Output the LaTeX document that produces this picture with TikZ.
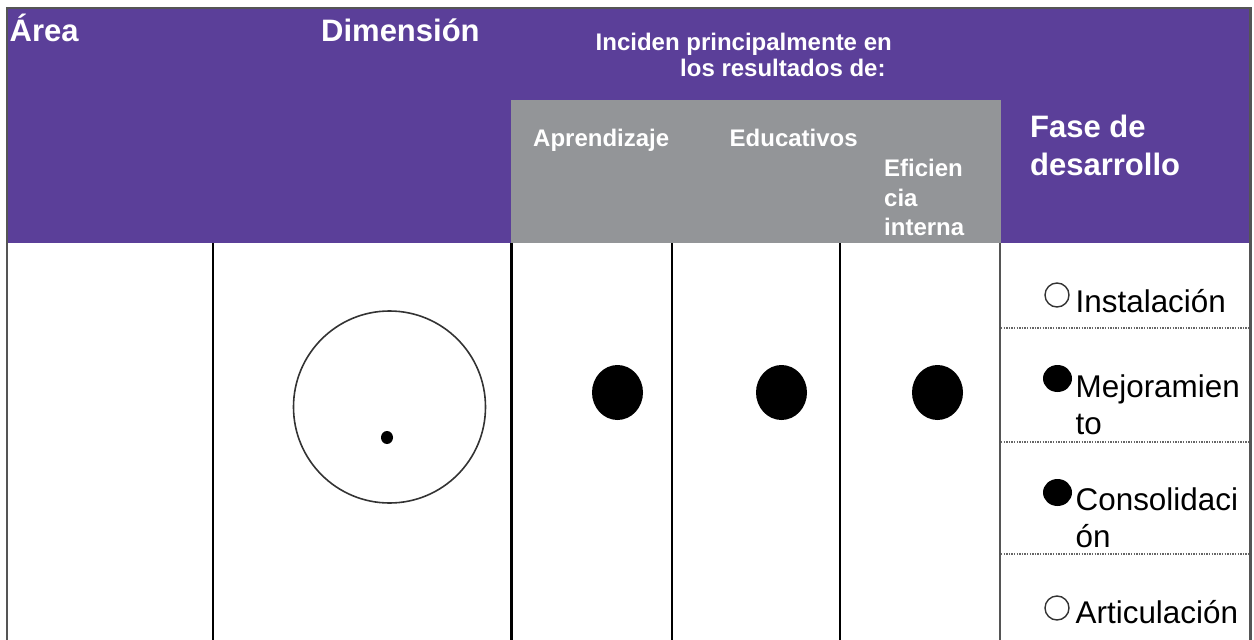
\documentclass[tikz,border=0pt]{standalone}
\usepackage{fontspec}
\setmainfont{Liberation Sans}
\usetikzlibrary{shapes.geometric}
\definecolor{hdrpurple}{HTML}{5B3F99}
\definecolor{hdrgray}{HTML}{939598}
\definecolor{rulegray}{HTML}{555555}
\definecolor{dotgray}{HTML}{666666}
\begin{document}
\begin{tikzpicture}[x=1pt,y=-1pt,
  bigtitle/.style={anchor=base west, inner sep=0pt, text=white, font=\bfseries\fontsize{31}{38}\selectfont, align=left},
  subtitle/.style={anchor=base west, inner sep=0pt, text=white, font=\bfseries\fontsize{24}{29.5}\selectfont, align=left},
  itemtext/.style={anchor=base west, inner sep=0pt, text=black, font=\fontsize{31.4}{37}\selectfont, align=left},
  blackrule/.style={line width=2.2pt, black},
  grayrule/.style={line width=2.5pt, rulegray},
  dotrule/.style={line width=1.3pt, dotgray, dash pattern=on 1.3pt off 1.3pt},
  mark open/.style={circle, draw=black!80, line width=1.4pt, minimum size=24pt, inner sep=0pt},
  mark full/.style={ellipse, fill=black, minimum width=29pt, minimum height=27pt, inner sep=0pt},
  bigdot/.style={ellipse, fill=black, minimum width=51pt, minimum height=55pt, inner sep=0pt}]
\useasboundingbox (0,0) rectangle (1254,640);
% header backgrounds
\fill[hdrpurple] (7,8) rectangle (1250,243);
\fill[hdrgray] (511,100) rectangle (1001,243);
% body rules
\coordinate (c1t) at (213,243); \coordinate (c1b) at (213,640);
\coordinate (c2t) at (511.5,243); \coordinate (c2b) at (511.5,640);
\coordinate (c3t) at (672,243); \coordinate (c3b) at (672,640);
\coordinate (c4t) at (840,243); \coordinate (c4b) at (840,640);
\coordinate (c5t) at (1000,243); \coordinate (c5b) at (1000,640);
\draw[blackrule] (c1t) -- (c1b);
\draw[blackrule] (c2t) -- (c2b);
\draw[blackrule] (c3t) -- (c3b);
\draw[blackrule] (c4t) -- (c4b);
\draw[grayrule] (c5t) -- (c5b);
% outer border
\coordinate (tl) at (7,8); \coordinate (tr) at (1250.5,8);
\coordinate (bl) at (7,640); \coordinate (br) at (1250.5,640);
\draw[grayrule] (bl) -- (tl) -- (tr) -- (br);
% dotted separators
\coordinate (d1a) at (1001,328); \coordinate (d1b) at (1250,328);
\coordinate (d2a) at (1001,442); \coordinate (d2b) at (1250,442);
\coordinate (d3a) at (1001,554); \coordinate (d3b) at (1250,554);
\draw[dotrule] (d1a) -- (d1b);
\draw[dotrule] (d2a) -- (d2b);
\draw[dotrule] (d3a) -- (d3b);
% header texts (multi-line nodes are placed at the baseline of their last line)
\node[bigtitle] (area) at (9.5,41) {Área};
\node[bigtitle] (dim) at (321,41) {Dimensión};
\node[subtitle] (inc1) at (595.5,50) {Inciden principalmente en};
\node[subtitle] (inc2) at (680,76) {los resultados de:};
\node[subtitle] (apr) at (533,146) {Aprendizaje};
\node[subtitle] (edu) at (729.5,146) {Educativos};
\node[subtitle] (efi) at (884,235.5) {Eficien\\cia\\interna};
\node[bigtitle] (fase) at (1030,175) {Fase de\\desarrollo};
% dimension symbol
\node[circle, draw=black!80, line width=1.6pt, minimum size=192pt, inner sep=0pt] (ring) at (389.5,407) {};
\node[ellipse, fill=black, minimum width=12pt, minimum height=13pt, inner sep=0pt] (core) at (387,437.5) {};
% result marks
\node[bigdot] (mA) at (617.5,392.5) {};
\node[bigdot] (mE) at (781.5,392.5) {};
\node[bigdot] (mI) at (937.5,392.5) {};
% phase list
\node[mark open] (b1) at (1057,295) {};
\node[itemtext] (t1) at (1075.5,312) {Instalación};
\node[mark full] (b2) at (1057.5,378.5) {};
\node[itemtext] (t2) at (1075.5,434) {Mejoramien\\to};
\node[mark full] (b3) at (1057.5,492.5) {};
\node[itemtext] (t3) at (1075.5,547) {Consolidaci\\ón};
\node[mark open] (b4) at (1057,608) {};
\node[itemtext] (t4) at (1075.5,623) {Articulación};
\end{tikzpicture}
\end{document}
